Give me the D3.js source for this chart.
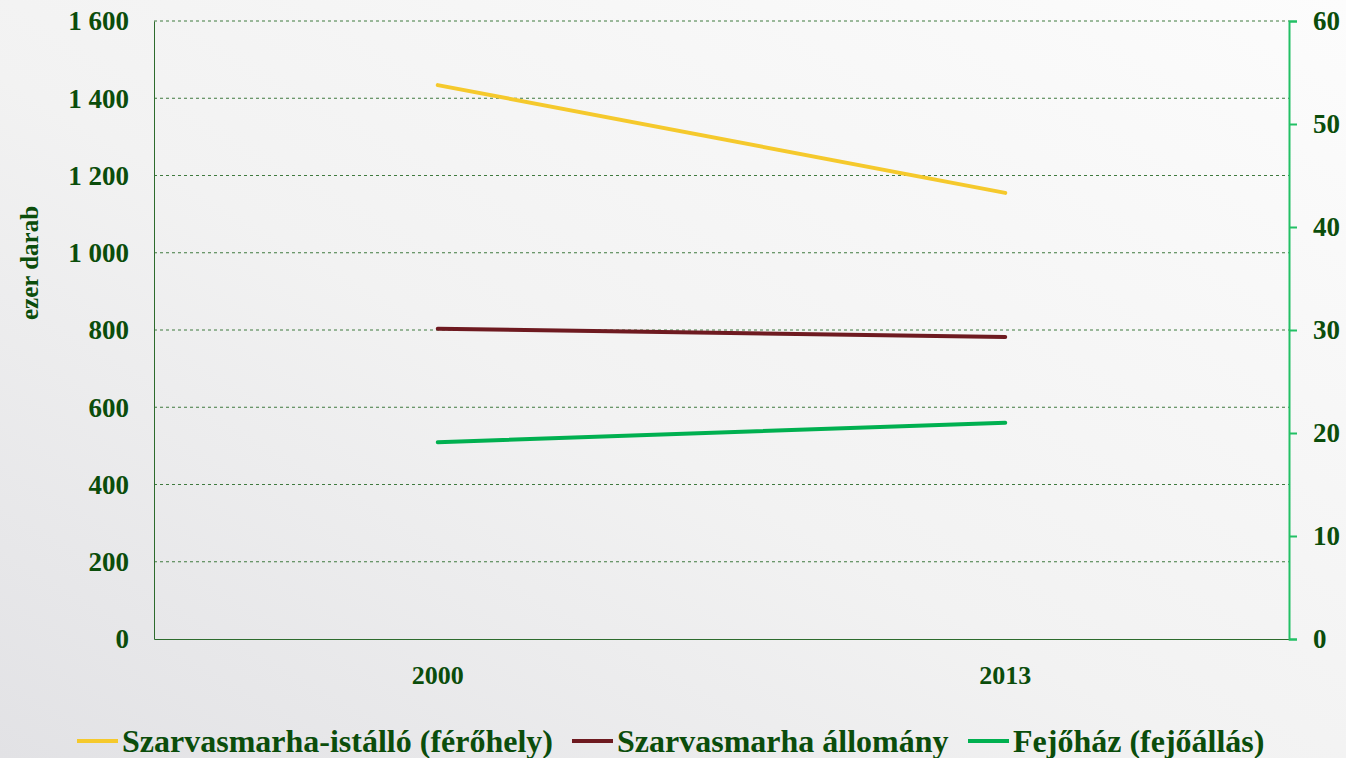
<!DOCTYPE html>
<html>
<head>
<meta charset="utf-8">
<script src="https://cdn.jsdelivr.net/npm/d3@7"></script>
<style>
  body { margin: 0; padding: 0; overflow: hidden; }
</style>
</head>
<body>
<script>
// DATA
const years = ["2000", "2013"];
const istallo = [1434, 1155];      // left axis, ezer darab
const allomany = [803, 782];       // left axis, ezer darab
const fejohaz = [19.1, 21.0];      // right axis
const leftTicks = [0, 200, 400, 600, 800, 1000, 1200, 1400, 1600];
const rightTicks = [0, 10, 20, 30, 40, 50, 60];
const seriesNames = ["Szarvasmarha-istálló (férőhely)", "Szarvasmarha állomány", "Fejőház (fejőállás)"];
const seriesColors = ["#f5c92c", "#6e1a20", "#00b050"];

const FONT = "Liberation Serif";
const TXT = "#0b4d0b";

const W = 1346, H = 758;
const margin = { top: 21, right: 57, bottom: 119, left: 154 };
const gw = W - margin.left - margin.right;
const gh = H - margin.top - margin.bottom;

const svg = d3.select("body").append("svg")
  .attr("width", W).attr("height", H)
  .attr("font-family", FONT).attr("font-weight", "bold");

// background gradient
const defs = svg.append("defs");
const grad = defs.append("linearGradient").attr("id", "bg")
  .attr("x1", "100%").attr("y1", "0%").attr("x2", "0%").attr("y2", "100%");
grad.append("stop").attr("offset", "0%").attr("stop-color", "#fcfcfc");
grad.append("stop").attr("offset", "55%").attr("stop-color", "#f2f2f2");
grad.append("stop").attr("offset", "100%").attr("stop-color", "#e2e2e5");
svg.append("rect").attr("width", W).attr("height", H).attr("fill", "url(#bg)");

const g = svg.append("g").attr("transform", `translate(${margin.left},${margin.top})`);

// SCALES
const X = d3.scaleBand().domain(years).range([0, gw]);
const YL = d3.scaleLinear().domain([0, 1600]).range([gh, 0]);
const YR = d3.scaleLinear().domain([0, 60]).range([gh, 0]);

const styleText = (sel, size) => sel
  .attr("font-family", FONT).attr("font-weight", "bold")
  .attr("font-size", size).attr("fill", TXT)
  .style("font-family", FONT).style("font-weight", "bold");

// gridlines
g.append("g").selectAll("line").data(leftTicks.filter(d => d > 0)).enter()
  .append("line")
  .attr("x1", 0).attr("x2", gw)
  .attr("y1", d => YL(d)).attr("y2", d => YL(d))
  .attr("stroke", "#3f7a3f").attr("stroke-width", 1)
  .attr("stroke-dasharray", "3,3");

// left axis
const leftAxis = g.append("g")
  .call(d3.axisLeft(YL).tickValues(leftTicks).tickSize(0).tickPadding(25)
    .tickFormat(d => d3.format(",")(d).replace(/,/g, " ")))
  .attr("font-family", FONT);
leftAxis.select(".domain").attr("stroke", "#2d6b2d");
leftAxis.selectAll("text").call(styleText, 27).attr("dy", "0.33em");

// bottom axis
const bottomAxis = g.append("g").attr("transform", `translate(0,${gh})`)
  .call(d3.axisBottom(X).tickSize(0).tickPadding(27))
  .attr("font-family", FONT);
bottomAxis.select(".domain").attr("stroke", "#2d6b2d");
bottomAxis.selectAll("text").call(styleText, 26);

// right axis
const rightAxis = g.append("g").attr("transform", `translate(${gw},0)`)
  .call(d3.axisRight(YR).tickValues(rightTicks).tickSize(8).tickPadding(16))
  .attr("font-family", FONT);
rightAxis.select(".domain").attr("stroke", "#22c065").attr("stroke-width", 2);
rightAxis.selectAll(".tick line").attr("stroke", "#22c065").attr("stroke-width", 2);
rightAxis.selectAll("text").call(styleText, 27).attr("dy", "0.33em");

// y axis title
svg.append("text")
  .attr("transform", `translate(38,${margin.top + 242}) rotate(-90)`)
  .attr("text-anchor", "middle")
  .call(styleText, 25)
  .text("ezer darab");

// LINES
const cx = d => X(d) + X.bandwidth() / 2;
const lineL = d3.line().x((d, i) => cx(years[i])).y(d => YL(d));
const lineR = d3.line().x((d, i) => cx(years[i])).y(d => YR(d));

g.append("path").datum(istallo).attr("d", lineL)
  .attr("fill", "none").attr("stroke", seriesColors[0]).attr("stroke-width", 4).attr("stroke-linecap", "round");
g.append("path").datum(allomany).attr("d", lineL)
  .attr("fill", "none").attr("stroke", seriesColors[1]).attr("stroke-width", 4).attr("stroke-linecap", "round");
g.append("path").datum(fejohaz).attr("d", lineR)
  .attr("fill", "none").attr("stroke", seriesColors[2]).attr("stroke-width", 4).attr("stroke-linecap", "round");

// LEGEND
const legendX = [77, 572, 968];
const legend = svg.append("g").attr("transform", "translate(0,741)");
seriesNames.forEach((name, i) => {
  const item = legend.append("g").attr("transform", `translate(${legendX[i]},0)`);
  item.append("line").attr("x1", 0).attr("x2", 41).attr("y1", 0).attr("y2", 0)
    .attr("stroke", seriesColors[i]).attr("stroke-width", 4);
  item.append("text").attr("x", 45).attr("y", 0).attr("dy", "0.33em")
    .call(styleText, 32).text(name);
});
</script>
</body>
</html>
